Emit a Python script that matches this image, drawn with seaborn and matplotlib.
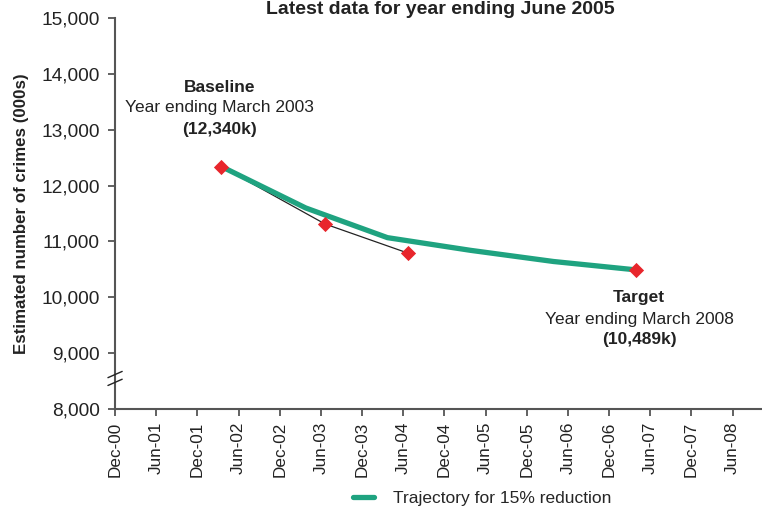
import matplotlib
matplotlib.use("Agg")
import matplotlib.pyplot as plt
import seaborn as sns
import pandas as pd

# -----------------------
# Data (x = months after Dec-00)
# -----------------------
traj_months = [15.5, 27.8, 39.7, 51.8, 63.9, 76.0]
traj_values = [12340, 11598, 11067, 10840, 10640, 10489]

actual_months = [15.5, 30.6, 42.7]
actual_values = [12340, 11312, 10790]

target_month = 76.0
target_value = 10489

tick_months = list(range(0, 91, 6))
tick_labels = ["Dec-00", "Jun-01", "Dec-01", "Jun-02", "Dec-02", "Jun-03",
               "Dec-03", "Jun-04", "Dec-04", "Jun-05", "Dec-05", "Jun-06",
               "Dec-06", "Jun-07", "Dec-07", "Jun-08"]
y_ticks = [8000, 9000, 10000, 11000, 12000, 13000, 14000, 15000]

GREEN = "#1fa380"
RED = "#e8262c"
GREY = "#555555"
TXT = "#222222"

sns.set_style("ticks")
plt.rcParams["font.family"] = ["Liberation Sans", "DejaVu Sans"]

traj = pd.DataFrame({"month": traj_months, "crimes": traj_values})
actual = pd.DataFrame({"month": actual_months, "crimes": actual_values})
points = pd.DataFrame({"month": actual_months + [target_month],
                       "crimes": actual_values + [target_value]})

fig = plt.figure(figsize=(7.62, 5.08), dpi=100)
ax = fig.add_axes([0.151, 0.195, 0.849, 0.7696])

sns.lineplot(data=actual, x="month", y="crimes", ax=ax, color=TXT,
             linewidth=0.9, zorder=2)
sns.lineplot(data=traj, x="month", y="crimes", ax=ax, color=GREEN,
             linewidth=3.8, zorder=3, label="Trajectory for 15% reduction")
sns.scatterplot(data=points, x="month", y="crimes", ax=ax, color=RED,
                marker="D", s=60, linewidth=0, zorder=4, legend=False)

ax.set_xlim(0, 94.3)
ax.set_ylim(8000, 15000)
ax.set_xticks(tick_months)
ax.set_xticklabels(tick_labels, rotation=90, fontsize=12.3, color=TXT)
ax.set_yticks(y_ticks)
ax.set_yticklabels([f"{v:,}" for v in y_ticks], fontsize=13.8, color=TXT)
ax.tick_params(axis="both", length=5, width=1.3, color=GREY, pad=4)
ax.tick_params(axis="y", pad=6)
ax.set_xlabel("")
ax.set_ylabel("Estimated number of crimes (000s)", fontsize=12.2,
              fontweight="bold", labelpad=9, color=TXT)

sns.despine(ax=ax)
for side in ["left", "bottom"]:
    ax.spines[side].set_color(GREY)
    ax.spines[side].set_linewidth(1.5)

# axis break marks on the y-axis
tr = ax.transAxes
for y0 in [0.088, 0.068]:
    ax.plot([-0.011, 0.011], [y0 - 0.008, y0 + 0.008], transform=tr,
            color=TXT, linewidth=1.0, clip_on=False, zorder=5)

fig.text(0.578, 0.999, "Latest data for year ending June 2005", ha="center",
         va="top", fontsize=14, fontweight="bold", color=TXT)

# annotations
ax.text(15.2, 13747, "Baseline", ha="center", va="center", fontsize=12.5,
        fontweight="bold", color=TXT)
ax.text(15.2, 13389, "Year ending March 2003", ha="center", va="center",
        fontsize=12.5, color=TXT)
ax.text(15.2, 12995, "(12,340k)", ha="center", va="center", fontsize=12.5,
        fontweight="bold", color=TXT)

ax.text(76.4, 9987, "Target", ha="center", va="center", fontsize=12.5,
        fontweight="bold", color=TXT)
ax.text(76.4, 9594, "Year ending March 2008", ha="center", va="center",
        fontsize=12.5, color=TXT)
ax.text(76.4, 9236, "(10,489k)", ha="center", va="center", fontsize=12.5,
        fontweight="bold", color=TXT)

ax.legend(loc="center", bbox_to_anchor=(0.568, -0.228), frameon=False,
          fontsize=12.5, handlelength=1.2, borderaxespad=0, handletextpad=1.1)

fig.savefig("out.png", dpi=100)
